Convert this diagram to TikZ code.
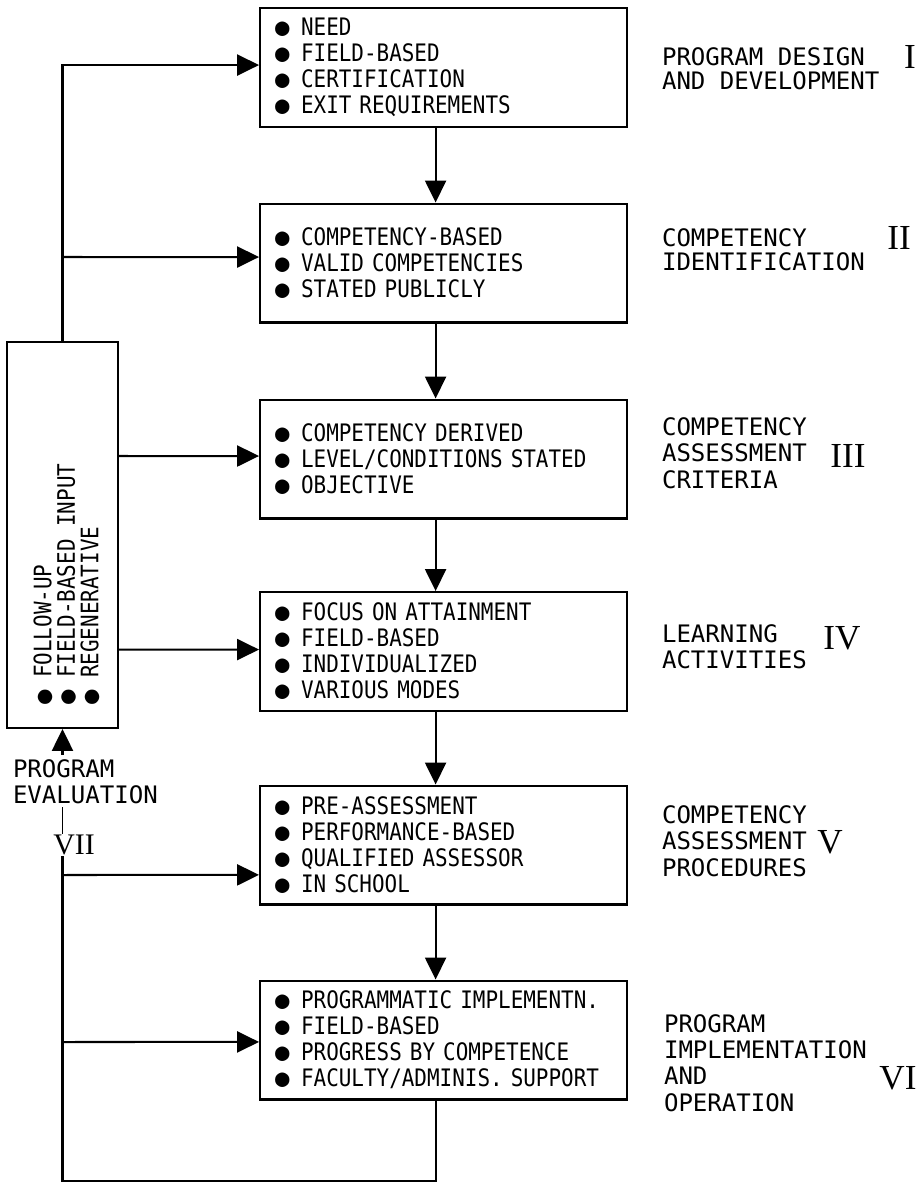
\documentclass[tikz,border=0pt]{standalone}
\usepackage{fontspec}
\usepackage{tikz}
\usetikzlibrary{arrows.meta}
\newfontfamily\boxfont{DejaVu Sans Mono}[FakeStretch=0.87]
\newfontfamily\bulfont{DejaVu Sans Mono}
\newfontfamily\labfont{DejaVu Sans Mono}
\newfontfamily\numfont{Liberation Serif}
\newcommand\bul{\makebox[14.8pt][l]{\bulfont ●}}

\begin{document}
\begin{tikzpicture}[x=0.02cm,y=-0.02cm,>={Triangle[length=12.5pt,width=12pt]},line width=1.15pt,
  stage/.style={draw,minimum width=7.34cm,minimum height=2.38cm,text width=6.74cm,inner xsep=0.3cm,align=left,font=\boxfont\fontsize{13.7}{14.8}\selectfont},
  lab/.style={anchor=west,inner sep=0pt,align=left,font=\labfont\fontsize{13.7}{15}\selectfont},
  labtight/.style={lab,font=\labfont\fontsize{13.7}{13.4}\selectfont},
  num/.style={inner sep=0pt,font=\numfont\fontsize{20}{22}\selectfont}]
\useasboundingbox (0,0) rectangle (918,1184);
% the six stages
\node[stage] (b1) at (443.5,67.5) {\bul NEED\\\bul FIELD-BASED\\\bul CERTIFICATION\\\bul EXIT REQUIREMENTS};
\node[stage] (b2) at (443.5,263) {\bul COMPETENCY-BASED\\\bul VALID COMPETENCIES\\\bul STATED PUBLICLY};
\node[stage] (b3) at (443.5,459) {\bul COMPETENCY DERIVED\\\bul LEVEL/CONDITIONS STATED\\\bul OBJECTIVE};
\node[stage] (b4) at (443.5,651.5) {\bul FOCUS ON ATTAINMENT\\\bul FIELD-BASED\\\bul INDIVIDUALIZED\\\bul VARIOUS MODES};
\node[stage] (b5) at (443.5,845) {\bul PRE-ASSESSMENT\\\bul PERFORMANCE-BASED\\\bul QUALIFIED ASSESSOR\\\bul IN SCHOOL};
\node[stage] (b6) at (443.5,1040) {\bul PROGRAMMATIC IMPLEMENTN.\\\bul FIELD-BASED\\\bul PROGRESS BY COMPETENCE\\\bul FACULTY/ADMINIS. SUPPORT};
% stage names
\node[labtight] (l1) at (661,68.5) {PROGRAM DESIGN\\AND DEVELOPMENT};
\node[labtight] (l2) at (661,250) {COMPETENCY\\IDENTIFICATION};
\node[lab] (l3) at (661,453) {COMPETENCY\\ASSESSMENT\\CRITERIA};
\node[lab] (l4) at (661,646.5) {LEARNING\\ACTIVITIES};
\node[lab] (l5) at (661,841) {COMPETENCY\\ASSESSMENT\\PROCEDURES};
\node[lab] (l6) at (663,1063) {PROGRAM\\IMPLEMENTATION\\AND\\OPERATION};
\node[num] (n1) at (910,57) {I};
\node[num] (n2) at (899,238) {II};
\node[num] (n3) at (848,456) {III};
\node[num] (n4) at (842,638) {IV};
\node[num] (n5) at (830,842) {V};
\node[num] (n6) at (898,1078) {VI};
% evaluation loop
\node[draw,minimum width=2.22cm,minimum height=7.72cm] (fb) at (62.5,535) {};
\node[rotate=90,anchor=west,inner sep=0pt,align=left,font=\boxfont\fontsize{13.7}{13.4}\selectfont] (fbt) at (66.5,705) {\bul FOLLOW-UP\\\bul FIELD-BASED INPUT\\\bul REGENERATIVE};
\node[lab] (ev) at (12,782) {PROGRAM\\EVALUATION};
\node[num,font=\numfont\fontsize{17}{20}\selectfont] (n7) at (74,845) {VII};
\draw[->] ([xshift=-4.5pt]b1.south) -- ([xshift=-4.5pt]b2.north);
\draw[->] ([xshift=-4.5pt]b2.south) -- ([xshift=-4.5pt]b3.north);
\draw[->] ([xshift=-4.5pt]b3.south) -- ([xshift=-4.5pt]b4.north);
\draw[->] ([xshift=-4.5pt]b4.south) -- ([xshift=-4.5pt]b5.north);
\draw[->] ([xshift=-4.5pt]b5.south) -- ([xshift=-4.5pt]b6.north);
\draw[->] (fb.north) |- ([yshift=1.4pt]b1.west);
\draw[->] (fb.north |- b2.west) ++(0,-6) -- ([yshift=3.4pt]b2.west);
\draw[->] (fb.east |- b3.west) ++(0,-3) -- ([yshift=1.7pt]b3.west);
\draw[->] (fb.east |- b4.west) ++(0,-2) -- ([yshift=1.1pt]b4.west);
\draw[->] (fb.south |- ev.north) ++(0,-4) -- (fb.south);
\draw[line width=0.6pt] (fb.south |- ev.south) ++(0,2) -- (fb.south |- n7.north);
\draw ([xshift=-4.5pt]b6.south) -- ++(0,80) -| (fb.south |- n7.south);
\draw[->] (fb.south |- b5.west) ++(0,30) -- ([yshift=-17pt]b5.west);
\draw[->] (fb.south |- b6.west) ++(0,2) -- ([yshift=-1.1pt]b6.west);
\end{tikzpicture}
\end{document}
